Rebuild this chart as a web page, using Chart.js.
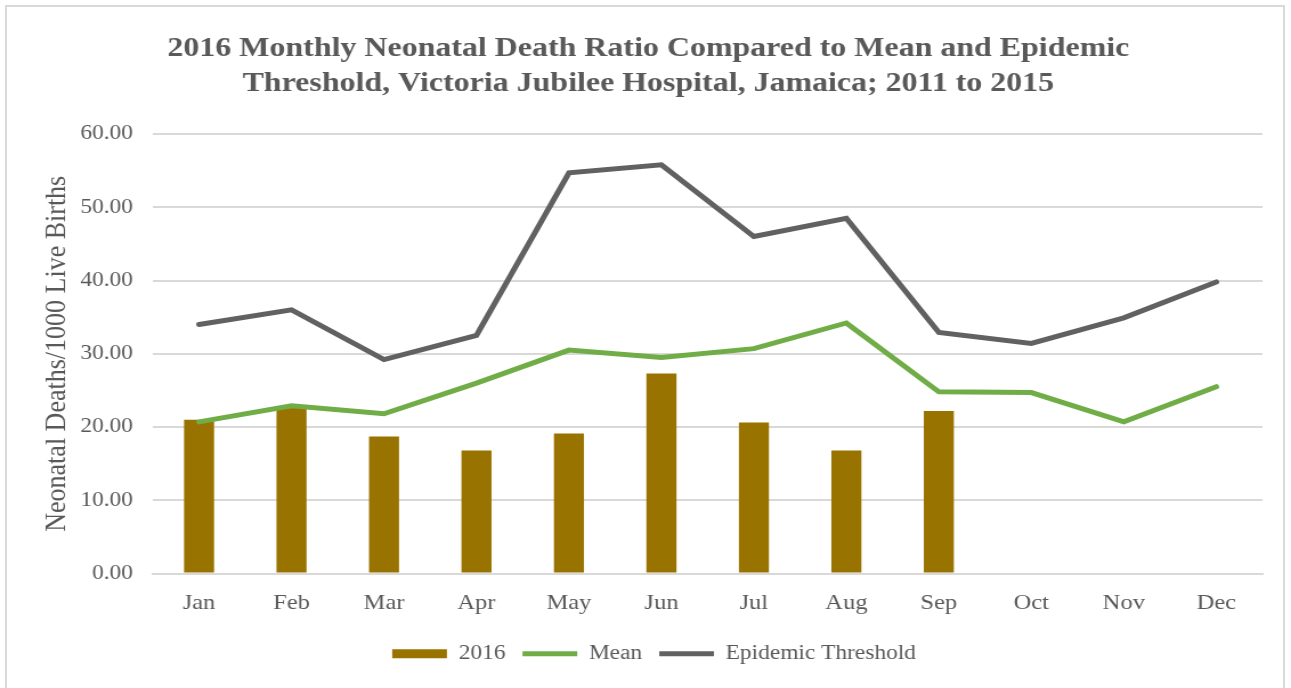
<!DOCTYPE html>
<html lang="en">
<head>
    <meta charset="UTF-8">
    <title>Neonatal Death Ratio 2016</title>
    <style>
        body {
            margin: 0;
            background: #ffffff;
            overflow: hidden;
        }

        .marco {
            position: absolute;
            left: 5px;
            top: 5px;
            width: 1276px;
            height: 700px;
            border: 2px solid #d9d9d9;
            pointer-events: none;
        }

        /* el original esta estirado en horizontal: se dibuja a 1132 y se muestra a 1291 */
        #grafica {
            position: absolute;
            left: 0;
            top: 0;
        }
    </style>
</head>
<body>
    <canvas id="grafica" width="1132" height="688" style="width: 1291px; height: 688px;"></canvas>
    <div class="marco"></div>

    <script src="https://cdn.jsdelivr.net/npm/chart.js"></script>
    <script>
        // Datos
        const meses = ['Jan', 'Feb', 'Mar', 'Apr', 'May', 'Jun', 'Jul', 'Aug', 'Sep', 'Oct', 'Nov', 'Dec'];
        const ratio2016 = [21.0, 22.8, 18.7, 16.8, 19.1, 27.3, 20.6, 16.8, 22.2, null, null, null];
        const media = [20.7, 22.9, 21.8, 26.0, 30.5, 29.5, 30.7, 34.2, 24.8, 24.7, 20.7, 25.5];
        const umbral = [34.0, 36.0, 29.2, 32.5, 54.7, 55.8, 46.0, 48.5, 32.9, 31.4, 34.9, 39.8];

        const gris = '#595959';
        const fuente = 'Liberation Serif';

        // corre la leyenda un poco a la derecha, como en el original
        const moverLeyenda = {
            id: 'moverLeyenda',
            afterLayout(chart) {
                chart.legend.left += 5;
                chart.legend.right += 5;
            }
        };

        new Chart(document.getElementById('grafica'), {
            type: 'bar',
            data: {
                labels: meses,
                datasets: [{
                    label: '2016',
                    data: ratio2016,
                    backgroundColor: '#997300',
                    borderWidth: 0,
                    barPercentage: 0.325,
                    categoryPercentage: 1,
                    pointStyle: 'rect',
                    order: 3
                }, {
                    type: 'line',
                    label: 'Mean',
                    data: media,
                    borderColor: '#70ad47',
                    backgroundColor: '#70ad47',
                    borderWidth: 5,
                    pointRadius: 0,
                    pointStyle: 'line',
                    tension: 0,
                    borderCapStyle: 'round',
                    order: 2
                }, {
                    type: 'line',
                    label: 'Epidemic Threshold',
                    data: umbral,
                    borderColor: '#616161',
                    backgroundColor: '#616161',
                    borderWidth: 5,
                    pointRadius: 0,
                    pointStyle: 'line',
                    tension: 0,
                    borderCapStyle: 'round',
                    order: 1
                }]
            },
            options: {
                responsive: false,
                animation: false,
                layout: {
                    padding: { left: 30, right: 25, top: 0, bottom: 14 }
                },
                plugins: {
                    title: {
                        display: true,
                        text: ['2016 Monthly Neonatal Death Ratio Compared to Mean and Epidemic',
                            'Threshold, Victoria Jubilee Hospital, Jamaica; 2011 to 2015'],
                        color: gris,
                        font: { family: fuente, size: 28, weight: 'bold', lineHeight: 1.25 },
                        padding: { top: 31, bottom: 33 }
                    },
                    legend: {
                        position: 'bottom',
                        labels: {
                            usePointStyle: true,
                            pointStyleWidth: 48,
                            boxHeight: 9,
                            padding: 15,
                            color: gris,
                            font: { family: fuente, size: 20.5 },
                            sort: (a, b) => a.datasetIndex - b.datasetIndex
                        }
                    },
                    tooltip: { enabled: false }
                },
                scales: {
                    x: {
                        grid: { display: false, drawTicks: false },
                        border: { display: true, color: '#d9d9d9', width: 2 },
                        ticks: {
                            color: gris,
                            font: { family: fuente, size: 21.5 },
                            padding: 17
                        },
                        afterFit: function (scale) { scale.height = 55; }
                    },
                    y: {
                        min: 0,
                        max: 60,
                        grid: { color: '#d9d9d9', lineWidth: 2, drawTicks: false },
                        border: { display: false },
                        ticks: {
                            stepSize: 10,
                            color: gris,
                            font: { family: fuente, size: 20.5 },
                            padding: 17.5,
                            callback: function (v) { return v.toFixed(2); }
                        },
                        title: {
                            display: true,
                            text: 'Neonatal Deaths/1000 Live Births',
                            color: gris,
                            font: { family: fuente, size: 26 },
                            padding: { top: 5, bottom: 0 }
                        },
                        afterFit: function (scale) { scale.width = 104; }
                    }
                }
            },
            plugins: [moverLeyenda]
        });
    </script>
</body>
</html>
